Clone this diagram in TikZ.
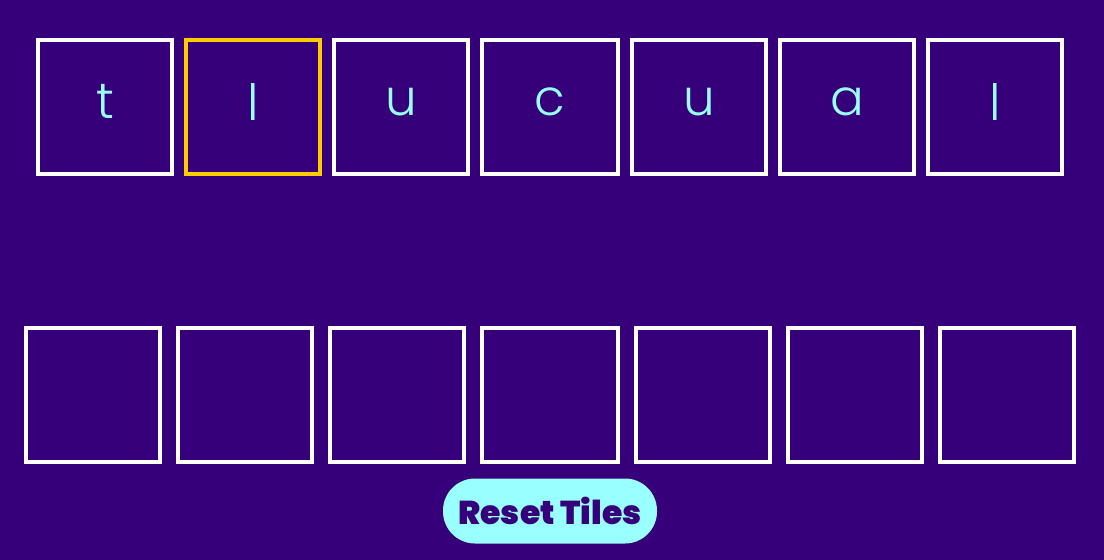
\documentclass[tikz,border=0pt]{standalone}
\usepackage{fontspec}
\setmainfont{Poppins}
\newfontfamily\tilefont{Poppins Light}
\newfontfamily\btnfont{Poppins Black}
\definecolor{bg}{HTML}{36007A}
\definecolor{cyanish}{HTML}{99FFFF}
\definecolor{gold}{HTML}{FFCC00}
\newcommand{\tl}[1]{\raisebox{11pt}{#1}}
\begin{document}
\begin{tikzpicture}[x=1pt,y=-1pt,
  tile/.style={draw=white,line width=4pt,outer sep=0pt,minimum width=134pt,minimum height=134pt,inner sep=0pt,anchor=north west,
    font=\tilefont\fontsize{50}{50}\selectfont,text=cyanish},
  sel/.style={draw=gold},
  wide/.style={minimum width=136pt},
  slot/.style={draw=white,line width=4pt,outer sep=0pt,minimum width=134pt,minimum height=134pt,inner sep=0pt,anchor=north west},
  btn/.style={fill=cyanish,rounded corners=32pt,minimum width=214pt,minimum height=65pt,inner sep=0pt,
    font=\btnfont\fontsize{33}{33}\selectfont,text=bg}]
\fill[bg] (0,0) rectangle (1104,560);
\useasboundingbox (0,0) rectangle (1104,560);
\node[tile] (t1) at (38,40) {\tl{t}};
\node[tile,sel] (t2) at (186,40) {\tl{l}};
\node[tile] (t3) at (334,40) {\tl{u}};
\node[tile,wide] (t4) at (482,40) {\tl{c}};
\node[tile] (t5) at (632,40) {\tl{u}};
\node[tile] (t6) at (780,40) {\tl{a}};
\node[tile] (t7) at (928,40) {\tl{l}};
\node[slot] (s1) at (26,328) {};
\node[slot] (s2) at (178,328) {};
\node[slot] (s3) at (330,328) {};
\node[slot,wide] (s4) at (482,328) {};
\node[slot] (s5) at (636,328) {};
\node[slot] (s6) at (788,328) {};
\node[slot] (s7) at (940,328) {};
\node[btn] (reset) at (550,511) {Reset Tiles};
\end{tikzpicture}
\end{document}
